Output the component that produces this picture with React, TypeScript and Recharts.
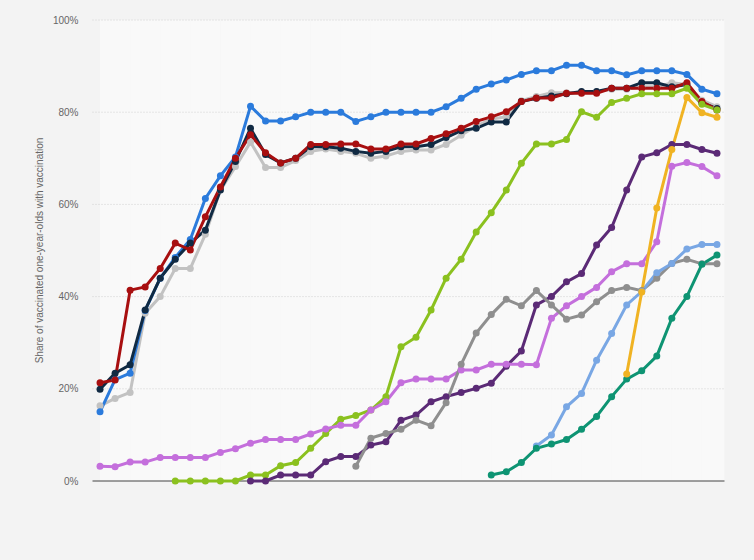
import { LineChart, Line, XAxis, YAxis, ReferenceArea, ReferenceLine } from "recharts";

const years = Array.from({ length: 42 }, (_, i) => 1980 + i);

const blue = [15, 22, 23.4, 37, 44, 48.5, 52.4, 61.3, 66.2, 70.3, 81.3, 78.1, 78.1, 79, 80, 80, 80, 78, 79, 80, 80, 80, 80, 81.2, 83, 85, 86.1, 87, 88.2, 89, 89, 90.2, 90.2, 89, 89, 88.1, 89, 89, 89, 88.2, 85, 84];
const navy = [19.9, 23.4, 25.2, 37.1, 44, 48.1, 51.6, 54.4, 63.1, 69.3, 76.5, 70.8, 69, 70, 72.5, 72.5, 72.2, 71.5, 71.1, 71.5, 72.5, 72.5, 73, 74.5, 76, 76.5, 77.9, 77.9, 82.3, 83, 83.5, 84, 84.5, 84.5, 85.2, 85.2, 86.4, 86.4, 85.5, 86, 82, 80.8];
const red = [21.3, 21.9, 41.4, 42.1, 46.1, 51.6, 50.1, 57.3, 63.8, 70, 75.1, 71.2, 69, 70, 73, 73, 73.1, 73.1, 72, 72, 73.1, 73.1, 74.3, 75.3, 76.5, 78, 79, 80.1, 82.3, 83.1, 83.1, 84.1, 84.1, 84.1, 85.2, 85.2, 85.2, 85.2, 85.2, 86.4, 82.3, 80.5];
const lightGray = [16.3, 17.9, 19.2, 36.4, 40, 46.1, 46.1, 53.5, 63.1, 68.2, 73.5, 68, 68, 69.5, 71.5, 72, 71.5, 71.1, 70, 70.5, 71.5, 71.8, 71.8, 73, 75, 77, 78.5, 79, 82.5, 83.4, 84.2, 84.2, 84.2, 84.5, 85, 85, 85.5, 85.5, 86.4, 86, 82.6, 81.2];
const green = [null, null, null, null, null, 0, 0, 0, 0, 0, 1.3, 1.3, 3.3, 4, 7.1, 10.3, 13.4, 14.2, 15.4, 18.3, 29.1, 31.2, 37.1, 44, 48.1, 54, 58.2, 63.1, 68.9, 73.1, 73.1, 74.1, 80.1, 78.9, 82.1, 83, 84, 84, 84, 85.2, 81.7, 80.5];
const purple = [null, null, null, null, null, null, null, null, null, null, 0, 0, 1.3, 1.3, 1.3, 4.2, 5.3, 5.3, 7.8, 8.5, 13.2, 14.3, 17.2, 18.3, 19.2, 20.1, 21.2, 24.9, 28.2, 38.2, 40, 43.2, 45, 51.2, 55, 63.1, 70.3, 71.2, 73, 73, 71.9, 71.1];
const orchid = [3.2, 3.1, 4.1, 4.1, 5.1, 5.1, 5.1, 5.1, 6.2, 7, 8.2, 9, 9, 9, 10.2, 11.3, 12.1, 12.1, 15.4, 17.2, 21.3, 22.1, 22.1, 22.1, 24.1, 24.1, 25.3, 25.3, 25.3, 25.2, 35.3, 38, 40, 42, 45.4, 47.1, 47.1, 51.9, 68.3, 69.1, 68.2, 66.2];
const midGray = [null, null, null, null, null, null, null, null, null, null, null, null, null, null, null, null, null, 3.2, 9.3, 10.3, 11.2, 13.2, 12, 17, 25.3, 32.1, 36.1, 39.4, 38, 41.3, 38.2, 35.1, 36, 38.9, 41.3, 42, 41.3, 44, 47.2, 48.1, 47.1, 47.1];
const lightBlue = [null, null, null, null, null, null, null, null, null, null, null, null, null, null, null, null, null, null, null, null, null, null, null, null, null, null, null, null, null, 7.6, 10, 16.1, 19, 26.2, 32, 38.2, 41.1, 45.2, 47.2, 50.3, 51.3, 51.3];
const teal = [null, null, null, null, null, null, null, null, null, null, null, null, null, null, null, null, null, null, null, null, null, null, null, null, null, null, 1.3, 2, 4, 7.1, 8, 9, 11.2, 14, 18.3, 22.1, 23.9, 27.1, 35.3, 40, 47, 49];
const yellow = [null, null, null, null, null, null, null, null, null, null, null, null, null, null, null, null, null, null, null, null, null, null, null, null, null, null, null, null, null, null, null, null, null, null, null, 23.2, 41, 59.2, 71.9, 83.2, 79.9, 78.9];

const yTicks = [0, 20, 40, 60, 80, 100];

const series = [
  { key: "lightGray", values: lightGray, color: "#c2c2c2" },
  { key: "blue", values: blue, color: "#2b7bdc" },
  { key: "navy", values: navy, color: "#102a43" },
  { key: "red", values: red, color: "#a80f10" },
  { key: "green", values: green, color: "#8bc11f" },
  { key: "purple", values: purple, color: "#5b2a76" },
  { key: "orchid", values: orchid, color: "#c46fdc" },
  { key: "midGray", values: midGray, color: "#8f8f8f" },
  { key: "lightBlue", values: lightBlue, color: "#79a7e4" },
  { key: "teal", values: teal, color: "#0e9473" },
  { key: "yellow", values: yellow, color: "#f0b323" },
];

const data = years.map((year, i) => {
  const row: Record<string, number | null> = { i, year };
  series.forEach(s => { row[s.key] = s.values[i]; });
  return row;
});

const stripes = Array.from({ length: 21 }, (_, k) => [2 * k, Math.min(2 * k + 2, 41.5)]);

const font = "'Liberation Sans', Arial, sans-serif";

export default function App() {
  return (
    <div style={{ position: "absolute", left: 0, top: 0, width: 754, height: 560, background: "#f3f3f3" }}>
      <LineChart width={754} height={560} data={data} margin={{ top: 20, right: 29.5, bottom: 79, left: 0 }}>
        <XAxis type="number" dataKey="i" domain={[-0.5, 41.5]} hide />
        <YAxis
          width={92.5}
          domain={[0, 100]}
          ticks={yTicks}
          tickFormatter={v => `${v}%`}
          axisLine={false}
          tickLine={false}
          tickMargin={8}
          tick={{ fill: "#666", fontSize: 10, fontFamily: font }}
          label={{
            value: "Share of vaccinated one-year-olds with vaccination",
            angle: -90,
            position: "center",
            dx: -7,
            style: { fill: "#666", fontSize: 10, fontFamily: font },
          }}
        />
        {stripes.map(([a, b]) => (
          <ReferenceArea key={a} x1={a} x2={b} fill="#f9f9f9" fillOpacity={1} stroke="none" ifOverflow="hidden" />
        ))}
        {yTicks.slice(1).map(t => (
          <ReferenceLine key={t} y={t} stroke="#d0d0d0" strokeDasharray="1 2" />
        ))}
        <ReferenceLine y={0} stroke="#444" strokeWidth={1.2} />
        {series.map(s => (
          <Line
            key={s.key}
            dataKey={s.key}
            stroke={s.color}
            strokeWidth={3}
            dot={{ r: 3.5, fill: s.color, stroke: s.color, strokeWidth: 0 }}
            activeDot={false}
            isAnimationActive={false}
          />
        ))}
      </LineChart>
    </div>
  );
}
